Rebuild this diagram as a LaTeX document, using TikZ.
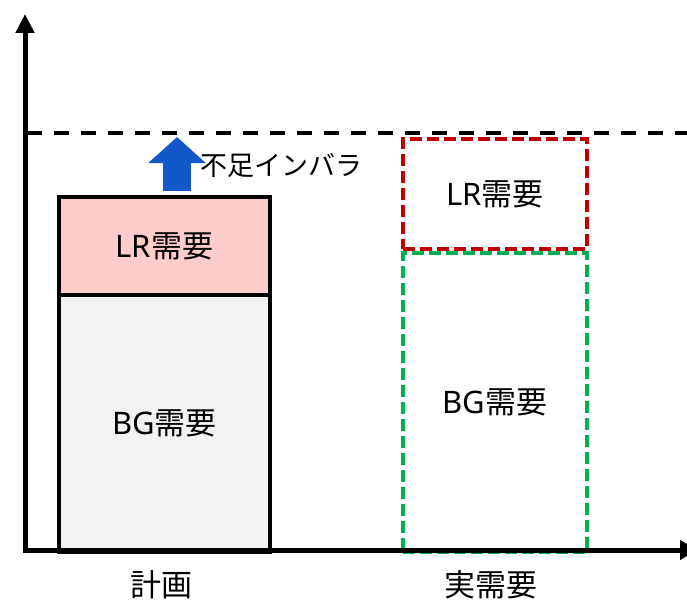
\documentclass[tikz,border=0pt]{standalone}
\usepackage{fontspec}
\setmainfont{Noto Sans CJK JP}
\newfontfamily\lat{Noto Sans}
\usetikzlibrary{arrows.meta}
\definecolor{lrpink}{HTML}{FFCCCC}
\definecolor{bggray}{HTML}{F2F2F2}
\definecolor{arrblue}{HTML}{1358C8}
\definecolor{dred}{HTML}{C00000}
\definecolor{dgreen}{HTML}{00B050}
\begin{document}
\begin{tikzpicture}[x=1pt,y=-1pt,
  solidbox/.style={draw=black,line width=4pt,minimum width=211pt,inner sep=0pt,font=\fontsize{31}{35}\selectfont},
  dashbox/.style={line width=4pt,dash pattern=on 12pt off 5pt,minimum width=184pt,inner sep=0pt},
  boxtext/.style={font=\fontsize{31}{35}\selectfont,inner sep=0pt},
  lbl/.style={font=\fontsize{31}{35}\selectfont,inner sep=0pt},
  axis/.style={line width=5pt}]
\useasboundingbox (0,0) rectangle (687,602);
% boxes
\node[solidbox,fill=bggray,minimum height=257pt,anchor=north west] (bg) at (57,293) {{\lat BG}需要};
\node[solidbox,fill=lrpink,minimum height=98pt,anchor=north west] (lr) at (57,195) {{\lat LR}需要};
\node[dashbox,draw=dgreen,minimum height=299pt,anchor=north west] (bg2) at (401,251) {};
\node[dashbox,draw=dred,minimum height=110pt,anchor=north west] (lr2) at (401,137) {};
\node[boxtext] (lr2t) at (lr2.center) {{\lat LR}需要};
\node[boxtext] (bg2t) at (bg2.center) {{\lat BG}需要};
% axes
\coordinate (o) at (25,550);
\coordinate (ytop) at (25,14);
\coordinate (xend) at (697,550);
\draw[axis,-{Triangle[length=19pt,width=18pt]}] ([yshift=2.5pt]o) -- (ytop);
\draw[axis,-{Triangle[length=17pt,width=19pt]}] ([xshift=-2.5pt]o) -- (xend);
% dashed target line
\coordinate (dl) at (27,133);
\coordinate (dr) at (687,133);
\draw[line width=4.5pt,dash pattern=on 15pt off 12pt] (dl) -- (dr);
% blue arrow
\coordinate (ab) at (177,191);
\coordinate (at) at (177,137);
\draw[line width=28pt,arrblue,-{Triangle[length=26pt,width=56pt]}] (ab) -- (at);
\node[lbl,anchor=west,font=\fontsize{27}{31}\selectfont] (fb) at (200,166) {不足インバラ};
% labels
\node[lbl] (plan) at (161,585) {計画};
\node[lbl] (real) at (491,585) {実需要};
\end{tikzpicture}
\end{document}
